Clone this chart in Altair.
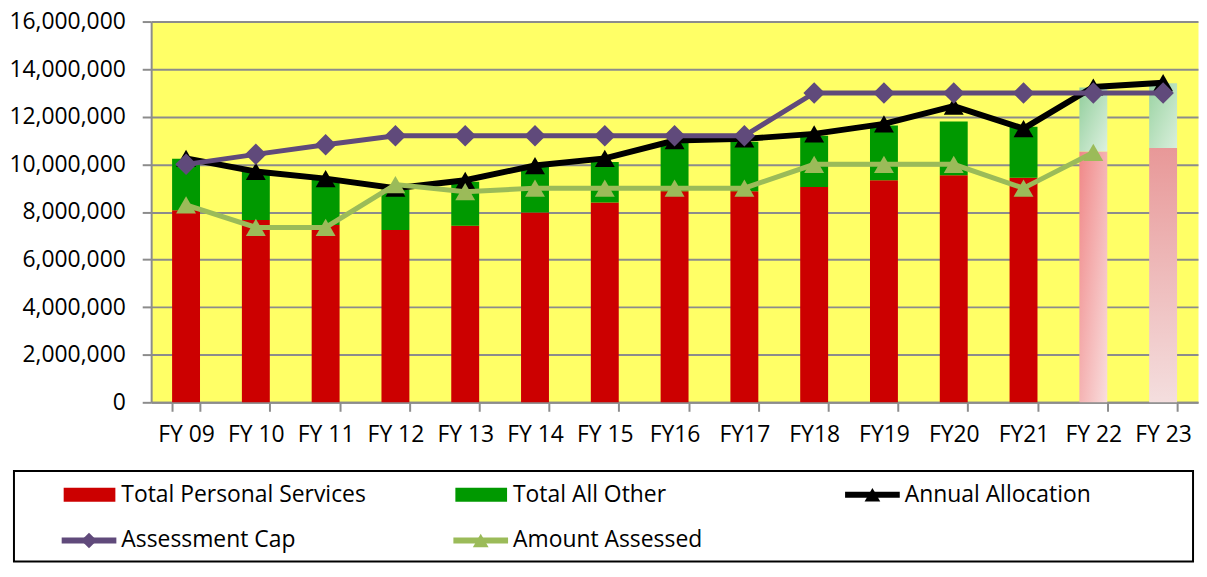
import altair as alt
import pandas as pd

# ---------------- data ----------------
years = ["FY 09", "FY 10", "FY 11", "FY 12", "FY 13", "FY 14", "FY 15", "FY16",
         "FY17", "FY18", "FY19", "FY20", "FY21", "FY 22", "FY 23"]
projected_years = ["FY 22", "FY 23"]

personal_services = [8070000, 7660000, 7450000, 7240000, 7420000, 7980000, 8400000, 8870000,
                     8870000, 9050000, 9330000, 9540000, 9440000, 10540000, 10690000]
all_other = [2160000, 2040000, 1900000, 1700000, 1850000, 1910000, 1700000, 2060000,
             2080000, 2150000, 2300000, 2260000, 2140000, 2690000, 2720000]
annual_allocation = [10250000, 9700000, 9400000, 9000000, 9330000, 9950000, 10250000, 11000000,
                     11070000, 11280000, 11700000, 12450000, 11500000, 13250000, 13430000]
assessment_cap = [10000000, 10420000, 10820000, 11200000, 11200000, 11200000, 11200000, 11200000,
                  11200000, 13000000, 13000000, 13000000, 13000000, 13000000, 13000000]
amount_assessed = [8300000, 7350000, 7350000, 9150000, 8850000, 9000000, 9000000, 9000000,
                   9000000, 10000000, 10000000, 10000000, 9000000, 10500000, None]

y_ticks = [0, 2000000, 4000000, 6000000, 8000000, 10000000, 12000000, 14000000, 16000000]

bar_series = ["Total Personal Services", "Total All Other"]
line_series = ["Annual Allocation", "Assessment Cap", "Amount Assessed"]
legend_names = ["Total Personal Services", "Total All Other", "Annual Allocation",
                "Assessment Cap", "Amount Assessed"]
legend_kinds = ["bar", "bar", "line", "line", "line"]

# ---------------- styles ----------------
RED, GREEN = "#CC0000", "#009900"
BLACK, PURPLE, LGREEN = "#000000", "#604A7B", "#9BBB59"
GRID = "#8C8C8C"
FONT = "Open Sans"
FS = 23

# ---------------- tables ----------------
bars_rows = []
for i, y in enumerate(years):
    for k, (s, vals) in enumerate(zip(bar_series, [personal_services, all_other])):
        bars_rows.append({"year": y, "series": s, "value": vals[i], "ord": k})
bars_df = pd.DataFrame(bars_rows)

line_rows = []
for s, vals in zip(line_series, [annual_allocation, assessment_cap, amount_assessed]):
    for y, v in zip(years, vals):
        if v is not None:
            line_rows.append({"year": y, "series": s, "value": v})
lines_df = pd.DataFrame(line_rows)

legend_df = pd.DataFrame({"name": legend_names, "kind": legend_kinds})

# ---------------- main chart ----------------
x_enc = alt.X(
    "year:N", sort=years,
    scale=alt.Scale(domain=years, paddingInner=0.6, paddingOuter=0.3),
    axis=alt.Axis(title=None, labelAngle=0, tickBand="extent", grid=False,
                  domainColor=GRID, domainWidth=2, tickColor=GRID, tickWidth=2,
                  tickSize=9, labelFontSize=FS, labelFont=FONT, labelColor="black",
                  labelPadding=12),
)
y_scale = alt.Scale(domain=[0, 16000000], nice=False, zero=True)
y_axis = alt.Axis(title=None, values=y_ticks, format=",d", grid=True, gridColor=GRID,
                  gridWidth=2, domainColor=GRID, domainWidth=2, tickColor=GRID,
                  tickWidth=2, tickSize=9, labelFontSize=FS, labelFont=FONT,
                  labelColor="black", labelPadding=17)

stacked = alt.Chart(bars_df).transform_stack(
    stack="value", groupby=["year"], as_=["lo", "hi"],
    sort=[alt.SortField("ord", order="ascending")],
)

actual_bars = stacked.transform_filter(
    alt.FieldOneOfPredicate(field="year", oneOf=years[:-2])
).mark_bar().encode(
    x=x_enc,
    y=alt.Y("hi:Q", scale=y_scale, axis=y_axis),
    y2="lo:Q",
    color=alt.Color("series:N", scale=alt.Scale(domain=bar_series, range=[RED, GREEN]),
                    legend=None),
)


def grad(c0, c1, x2, y2):
    return alt.LinearGradient(
        gradient="linear",
        stops=[alt.GradientStop(color=c0, offset=0), alt.GradientStop(color=c1, offset=1)],
        x1=0, y1=0, x2=x2, y2=y2,
    )


proj_styles = {
    ("FY 22", "Total Personal Services"): grad("#F08888", "#F9DEDE", 1, 1),
    ("FY 23", "Total Personal Services"): grad("#E89898", "#F4DEDE", 0, 1),
    ("FY 22", "Total All Other"): grad("#92CE9C", "#DDF1E0", 1, 1),
    ("FY 23", "Total All Other"): grad("#9AD3A2", "#D9EFDC", 1, 1),
}
proj_layers = []
for (yr, s), g in proj_styles.items():
    proj_layers.append(
        stacked.transform_filter(
            (alt.datum.year == yr) & (alt.datum.series == s)
        ).mark_bar(color=g).encode(
            x=alt.X("year:N", sort=years), y="hi:Q", y2="lo:Q"
        )
    )

line_styles = {
    "Annual Allocation": (BLACK, "triangle-up", 400, 6),
    "Assessment Cap": (PURPLE, "diamond", 470, 5),
    "Amount Assessed": (LGREEN, "triangle-up", 400, 5),
}
line_layers = []
for s in line_series:
    c, shp, sz, w = line_styles[s]
    line_layers.append(
        alt.Chart(lines_df).transform_filter(alt.datum.series == s).mark_line(
            color=c, strokeWidth=w,
            point=alt.OverlayMarkDef(shape=shp, size=sz, filled=True, color=c, opacity=1),
        ).encode(x=alt.X("year:N", sort=years), y="value:Q")
    )

main = alt.layer(actual_bars, *proj_layers, *line_layers).properties(
    width=1053, height=383,
    view=alt.ViewBackground(fill="#FFFF66", stroke="transparent"),
)

# ---------------- legend panel (origin = plot-area left edge) ----------------
leg_base = alt.Chart(legend_df).transform_window(
    idx="row_number()"
).transform_calculate(
    col="(datum.idx - 1) % 3",
    row="floor((datum.idx - 1) / 3)",
).transform_calculate(
    x0="-88 + datum.col * 394",
    yc="25 + datum.row * 46",
).transform_calculate(
    xr="datum.x0 + 52", ya="datum.yc - 7", yb="datum.yc + 7",
    xl="datum.x0 - 2", xle="datum.x0 + 53", xm="datum.x0 + 25.5", xt="datum.x0 + 58",
)
leg_color = alt.Color("name:N", scale=alt.Scale(
    domain=legend_names, range=[RED, GREEN, BLACK, PURPLE, LGREEN]), legend=None)

box = alt.Chart(pd.DataFrame({"a": [0]})).mark_rect(
    fill="white", stroke="black", strokeWidth=2
).encode(x=alt.value(-138), x2=alt.value(1048), y=alt.value(1), y2=alt.value(92))

leg_rects = leg_base.transform_filter(alt.datum.kind == "bar").mark_rect().encode(
    x=alt.X("x0:Q", scale=None), x2="xr:Q",
    y=alt.Y("ya:Q", scale=None), y2="yb:Q", color=leg_color,
)
leg_lines = leg_base.transform_filter(alt.datum.kind == "line").mark_rule(strokeWidth=6).encode(
    x=alt.X("xl:Q", scale=None), x2="xle:Q", y=alt.Y("yc:Q", scale=None), color=leg_color,
)
leg_marks = leg_base.transform_filter(alt.datum.kind == "line").mark_point(
    filled=True, opacity=1, size=250
).encode(
    x=alt.X("xm:Q", scale=None), y=alt.Y("yc:Q", scale=None), color=leg_color,
    shape=alt.Shape("name:N", scale=alt.Scale(
        domain=line_series, range=["triangle-up", "diamond", "triangle-up"]), legend=None),
)
leg_text = leg_base.mark_text(align="left", baseline="middle", fontSize=FS, font=FONT,
                              color="black").encode(
    x=alt.X("xt:Q", scale=None), y=alt.Y("yc:Q", scale=None), text="name:N",
)

legend = alt.layer(box, leg_rects, leg_lines, leg_marks, leg_text).properties(
    width=1048, height=93,
    view=alt.ViewBackground(fill="transparent", stroke="transparent"),
)

chart = alt.vconcat(main, legend, spacing=22).resolve_scale(
    color="independent", shape="independent"
).properties(padding=0).configure(font=FONT)

chart.save("out.html", embed_options={"renderer": "svg", "actions": False})
